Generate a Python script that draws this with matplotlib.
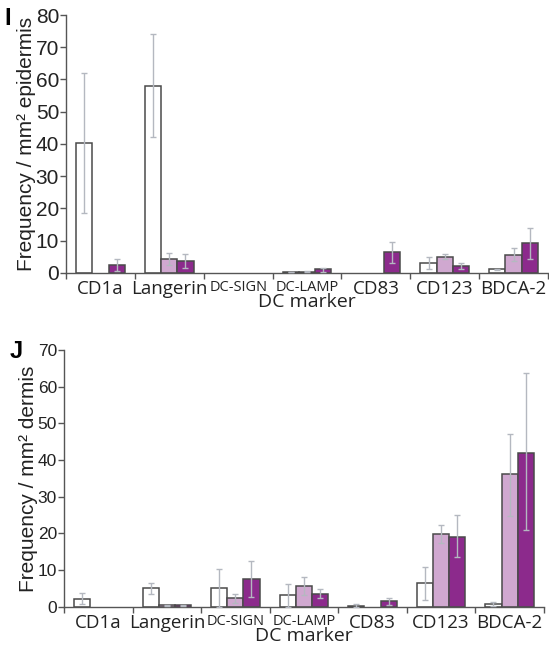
import matplotlib.pyplot as plt
import numpy as np

# DC markers on the x axis
markers = ["CD1a", "Langerin", "DC-SIGN", "DC-LAMP", "CD83", "CD123", "BDCA-2"]

# panel I : epidermis  (mean, lower error end, upper error end) per group
epi_white = [40.2, 58.0, 0, 0.2, 0, 3.1, 1.0]
epi_white_lo = [18.5, 42.0, 0, 0.1, 0, 1.3, 0.7]
epi_white_hi = [62.0, 74.0, 0, 0.3, 0, 5.0, 1.3]
epi_light = [0, 4.3, 0, 0.3, 0, 5.0, 5.6]
epi_light_lo = [0, 2.5, 0, 0.2, 0, 4.2, 3.6]
epi_light_hi = [0, 6.2, 0, 0.4, 0, 5.8, 7.6]
epi_dark = [2.5, 3.6, 0, 1.0, 6.3, 2.0, 9.2]
epi_dark_lo = [0.5, 1.5, 0, 0.3, 3.0, 1.0, 4.2]
epi_dark_hi = [4.3, 5.8, 0, 1.6, 9.5, 3.0, 14.0]

# panel J : dermis
der_white = [2.2, 5.0, 5.0, 3.2, 0.3, 6.4, 0.7]
der_white_lo = [0.7, 3.6, 0.0, 0.0, 0.0, 1.8, 0.2]
der_white_hi = [3.8, 6.6, 10.2, 6.1, 0.7, 10.9, 1.3]
der_light = [0, 0.4, 2.3, 5.6, 0, 19.9, 36.1]
der_light_lo = [0, 0.3, 0.9, 3.1, 0, 17.3, 24.7]
der_light_hi = [0, 0.6, 3.6, 8.0, 0, 22.4, 47.1]
der_dark = [0, 0.4, 7.5, 3.6, 1.5, 19.1, 42.0]
der_dark_lo = [0, 0.3, 2.7, 2.5, 0.6, 13.5, 20.9]
der_dark_hi = [0, 0.6, 12.5, 4.8, 2.4, 25.0, 63.6]

colors = ["white", "#d0a8d0", "#8c2a8c"]
edge = "#4a4a4a"
err_col = "#b4b8c0"
axis_col = "#555555"


def draw_panel(ax, groups, ymax, ystep, ylabel, tick_size):
    x = np.arange(len(markers))
    w = 0.235
    offsets = [-w, 0, w]
    for (vals, lo, hi), off, c in zip(groups, offsets, colors):
        vals = np.array(vals)
        yerr = [vals - np.array(lo), np.array(hi) - vals]
        show = vals > 0
        ax.bar(x[show] + off, vals[show], w, color=c, edgecolor=edge,
               linewidth=1.1, zorder=2)
        ax.errorbar(x[show] + off, vals[show],
                    yerr=[yerr[0][show], yerr[1][show]], fmt="none",
                    ecolor=err_col, elinewidth=1, capsize=2.5, capthick=1,
                    zorder=3)

    ax.set_xlim(-0.5, len(markers) - 0.5)
    ax.set_ylim(0, ymax)
    ax.set_yticks(np.arange(0, ymax + 1, ystep))
    ax.tick_params(axis="y", labelsize=tick_size, length=4, width=1,
                   color=axis_col, pad=1)
    for t in ax.get_yticklabels():
        t.set_fontfamily("Liberation Sans")
        t.set_color("#222222")

    # category labels at centres, tick marks at the boundaries
    ax.set_xticks(x)
    ax.set_xticklabels(markers)
    ax.tick_params(axis="x", which="major", length=0, pad=5)
    ax.set_xticks(np.arange(len(markers) + 1) - 0.5, minor=True)
    ax.tick_params(axis="x", which="minor", length=4, width=1, color=axis_col)
    for t in ax.get_xticklabels():
        t.set_fontfamily("Open Sans")
        t.set_color("#222222")
        if t.get_text() in ("DC-SIGN", "DC-LAMP"):
            t.set_fontsize(10.5)
        else:
            t.set_fontsize(13.5)

    for s in ["top", "right"]:
        ax.spines[s].set_visible(False)
    for s in ["left", "bottom"]:
        ax.spines[s].set_color(axis_col)
        ax.spines[s].set_linewidth(1)

    ax.set_ylabel(ylabel, fontsize=15, family="Liberation Sans",
                  color="#222222", labelpad=0)
    ax.set_xlabel("DC marker", fontsize=14, family="Open Sans",
                  color="#222222", labelpad=-3)
    return ax


fig = plt.figure(figsize=(5.49, 6.54), dpi=100)

ax1 = fig.add_axes([0.1202, 0.583, 0.878, 0.394])
draw_panel(ax1,
           [(epi_white, epi_white_lo, epi_white_hi),
            (epi_light, epi_light_lo, epi_light_hi),
            (epi_dark, epi_dark_lo, epi_dark_hi)],
           80, 10, "Frequency / mm² epidermis", 15)

ax2 = fig.add_axes([0.1166, 0.0723, 0.874, 0.3925])
draw_panel(ax2,
           [(der_white, der_white_lo, der_white_hi),
            (der_light, der_light_lo, der_light_hi),
            (der_dark, der_dark_lo, der_dark_hi)],
           70, 10, "Frequency / mm² dermis", 12.5)

fig.text(0.008, 0.962, "I", fontsize=17, fontweight="bold",
         family="Liberation Sans")
fig.text(0.018, 0.452, "J", fontsize=17, fontweight="bold",
         family="Liberation Sans")

fig.savefig("out.png", dpi=100)
